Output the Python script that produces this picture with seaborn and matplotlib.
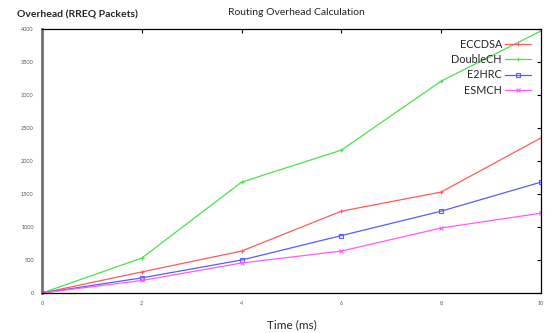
import matplotlib
matplotlib.use("Agg")
import matplotlib.pyplot as plt
import seaborn as sns
import pandas as pd

time_ms = [0, 2, 4, 6, 8, 10]
eccdsa = [0, 320, 636, 1240, 1530, 2350]
doublech = [0, 530, 1680, 2165, 3210, 3970]
e2hrc = [0, 230, 500, 870, 1240, 1680]
esmch = [0, 190, 455, 636, 985, 1210]

series_names = ["ECCDSA", "DoubleCH", "E2HRC", "ESMCH"]
series_values = [eccdsa, doublech, e2hrc, esmch]
colors = ["#ff5a5a", "#4ce04c", "#5a5aff", "#ff5aff"]
markers = ["+", "+", "s", "x"]

rows = []
for name, vals in zip(series_names, series_values):
    for t, v in zip(time_ms, vals):
        rows.append({"Time": t, "Overhead": v, "Protocol": name})
df = pd.DataFrame(rows)

sns.set_style("white")
plt.rcParams["font.family"] = ["Lato", "DejaVu Sans"]

fig = plt.figure(figsize=(5.6, 3.33), dpi=100)
ax = fig.add_axes([0.075, 0.12, 0.891, 0.793])

for name, col, mk in zip(series_names, colors, markers):
    sub = df[df["Protocol"] == name]
    sns.lineplot(data=sub, x="Time", y="Overhead", ax=ax, color=col,
                 marker=mk, markersize=3, markerfacecolor="none",
                 markeredgecolor=col, markeredgewidth=0.8,
                 linewidth=0.9, label=name)

ax.set_xlim(0, 10)
ax.set_ylim(0, 4000)
ax.set_xticks(time_ms)
ax.set_yticks(range(0, 4001, 500))
ax.tick_params(axis="both", direction="in", labelsize=4, length=3,
               width=0.8, colors="black", labelcolor="#555555",
               top=True, right=True, pad=6)
for side in ["top", "right", "bottom"]:
    ax.spines[side].set_color("black")
    ax.spines[side].set_linewidth(0.9)
ax.spines["left"].set_color("#707070")
ax.spines["left"].set_linewidth(2.0)

ax.set_xlabel("Time (ms)", fontsize=8.5, labelpad=9)
ax.set_ylabel("")
fig.text(0.03, 0.955, "Overhead (RREQ Packets)", fontsize=7.5,
         fontweight="bold", ha="left", va="center")
fig.text(0.53, 0.962, "Routing Overhead Calculation", fontsize=7.5,
         ha="center", va="center")

ax.legend(loc="upper right", markerfirst=False, frameon=False,
          fontsize=7.8, handlelength=2.4, handletextpad=0.3,
          labelspacing=0.4, borderaxespad=0.5)

fig.savefig("out.png", dpi=100)
